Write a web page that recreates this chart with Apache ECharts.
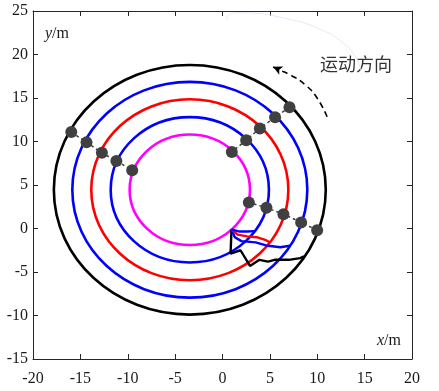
<!DOCTYPE html>
<html>
<head>
<meta charset="utf-8">
<script src="https://cdn.jsdelivr.net/npm/echarts@6/dist/echarts.min.js"></script>
<style>html,body{margin:0;padding:0;background:#fff;}#c{width:439px;height:391px;}</style>
</head>
<body>
<div id="c"></div>
<script>
// ---- data ----
const xTicks = [-20, -15, -10, -5, 0, 5, 10, 15, 20];
const yTicks = [-15, -10, -5, 0, 5, 10, 15, 20, 25];
const circleCenter = [-3.45, 4.45];
const circleRadii = [14.35, 12.4, 10.4, 8.35, 6.35];
const circleColors = ['#000000', '#0000ff', '#ff0000', '#0000ff', '#ff00ff'];
// transition paths from start point to each circle
const pathBlack = [[0.95, -0.1], [0.85, -2.9], [1.9, -2.5], [2.9, -4.3], [3.9, -3.6], [4.8, -3.8], [5.5, -3.6], [7.0, -3.6], [8.2, -3.4], [8.6, -3.2]];
const pathBlueOuter = [[0.95, -0.1], [1.3, -1.0], [2.0, -1.45], [3.5, -1.6], [4.6, -1.95], [6.1, -2.15], [7.1, -1.98]];
const pathRed = [[0.95, -0.1], [1.6, -0.7], [2.6, -0.9], [3.6, -1.0], [4.5, -1.3], [5.0, -1.6]];
const pathBlueInner = [[0.95, -0.1], [1.8, -0.35], [2.6, -0.35], [3.4, -0.3]];
// marker groups (one point on each circle)
const group1 = [[-15.96, 11.1], [-14.35, 9.9], [-12.73, 8.7], [-11.2, 7.75], [-9.53, 6.7]];
const group2 = [[7.07, 13.95], [5.55, 12.8], [3.94, 11.5], [2.5, 10.15], [0.98, 8.8]];
const group3 = [[9.99, -0.2], [8.3, 0.7], [6.43, 1.65], [4.64, 2.38], [2.78, 3.0]];
// direction arrow arc
const arrowArc = [[11.04, 12.85], [10.0, 14.97], [8.76, 16.49], [7.17, 17.64], [5.59, 18.41], [5.35, 18.6]];
// faint arc near top
const faintArc = [[0.42, 23.97], [0.6, 24.5], [1.9, 24.8], [2.95, 24.77], [6.43, 24.2], [10.0, 23.05], [12.76, 21.3], [14.24, 19.37], [14.56, 18.2]];

const serif = '"Liberation Serif","Times New Roman",serif';
const chart = echarts.init(document.getElementById('c'));

const circleData = circleRadii.map((r, i) => [circleCenter[0], circleCenter[1], r, i]);

const markerSeries = [group1, group2, group3].map(g => ({
  type: 'line', data: g, z: 5,
  symbol: 'circle', symbolSize: 12, showSymbol: true,
  itemStyle: { color: '#404040' },
  lineStyle: { color: '#404040', width: 1.5, type: [3, 3] },
  animation: false
}));

const pathSeries = [
  [pathBlack, '#000000'], [pathBlueOuter, '#0000ff'], [pathRed, '#ff0000'], [pathBlueInner, '#0000ff']
].map(([d, c]) => ({
  type: 'line', data: d, symbol: 'none', z: 3,
  lineStyle: { color: c, width: 2.4 }, animation: false
}));

const arcData = arrowArc.map((p, i) => i === arrowArc.length - 1
  ? { value: p, symbol: 'arrow', symbolSize: [7, 9], symbolRotate: 64, itemStyle: { color: '#000' } }
  : { value: p, symbol: 'none' });

chart.setOption({
  animation: false,
  grid: { left: 33, right: 27, top: 11, bottom: 32 },
  xAxis: [{
    type: 'value', min: -20, max: 20, interval: 5,
    axisLine: { onZero: false, lineStyle: { color: '#262626', width: 1 } },
    axisTick: { inside: true, length: 5, lineStyle: { color: '#262626' } },
    axisLabel: { fontFamily: serif, fontSize: 16, color: '#1a1a1a', margin: 12, showMinLabel: true, showMaxLabel: true,
      formatter: v => xTicks.includes(v) ? String(v) : '' },
    splitLine: { show: false }
  }, {
    type: 'value', min: -20, max: 20, interval: 5, position: 'top',
    axisLine: { onZero: false, lineStyle: { color: '#262626', width: 1 } },
    axisTick: { inside: true, length: 5, lineStyle: { color: '#262626' } },
    axisLabel: { show: false }, splitLine: { show: false }
  }],
  yAxis: [{
    type: 'value', min: -15, max: 25, interval: 5,
    axisLine: { onZero: false, lineStyle: { color: '#262626', width: 1 } },
    axisTick: { inside: true, length: 5, lineStyle: { color: '#262626' } },
    axisLabel: { fontFamily: serif, fontSize: 16, color: '#1a1a1a', margin: 5, showMinLabel: true, showMaxLabel: true,
      formatter: v => yTicks.includes(v) ? String(v) : '' },
    splitLine: { show: false }
  }, {
    type: 'value', min: -15, max: 25, interval: 5, position: 'right',
    axisLine: { onZero: false, lineStyle: { color: '#262626', width: 1 } },
    axisTick: { inside: true, length: 5, lineStyle: { color: '#262626' } },
    axisLabel: { show: false }, splitLine: { show: false }
  }],
  series: [
    {
      type: 'line', data: faintArc, symbol: 'none', smooth: true, z: 1,
      lineStyle: { color: '#e3eaf5', width: 1 }
    },
    {
      type: 'custom', data: circleData, z: 2,
      renderItem: (params, api) => {
        const c = api.coord([api.value(0), api.value(1)]);
        const s = api.size([api.value(2), api.value(2)]);
        return {
          type: 'ellipse',
          shape: { cx: c[0], cy: c[1], rx: s[0], ry: s[1] },
          style: { fill: 'none', stroke: circleColors[api.value(3)], lineWidth: 2.6 }
        };
      }
    },
    ...pathSeries,
    ...markerSeries,
    {
      type: 'line', data: arcData, smooth: true, z: 4, showSymbol: true,
      lineStyle: { color: '#000', width: 1.6, type: [6, 4] }
    }
  ],
  graphic: [
    { type: 'text', left: 45, top: 26, style: { rich: { i: { fontFamily: serif, fontStyle: 'italic', fontSize: 16, fill: '#1a1a1a' }, n: { fontFamily: serif, fontSize: 16, fill: '#1a1a1a' } }, text: '{i|y}{n|/m}' } },
    { type: 'text', left: 377, top: 333, style: { rich: { i: { fontFamily: serif, fontStyle: 'italic', fontSize: 16, fill: '#1a1a1a' }, n: { fontFamily: serif, fontSize: 16, fill: '#1a1a1a' } }, text: '{i|x}{n|/m}' } },
    { type: 'text', left: 320, top: 55, style: { text: '运动方向', fontFamily: '"Noto Sans CJK SC"', fontSize: 18, fill: '#333' } }
  ]
});
</script>
</body>
</html>
